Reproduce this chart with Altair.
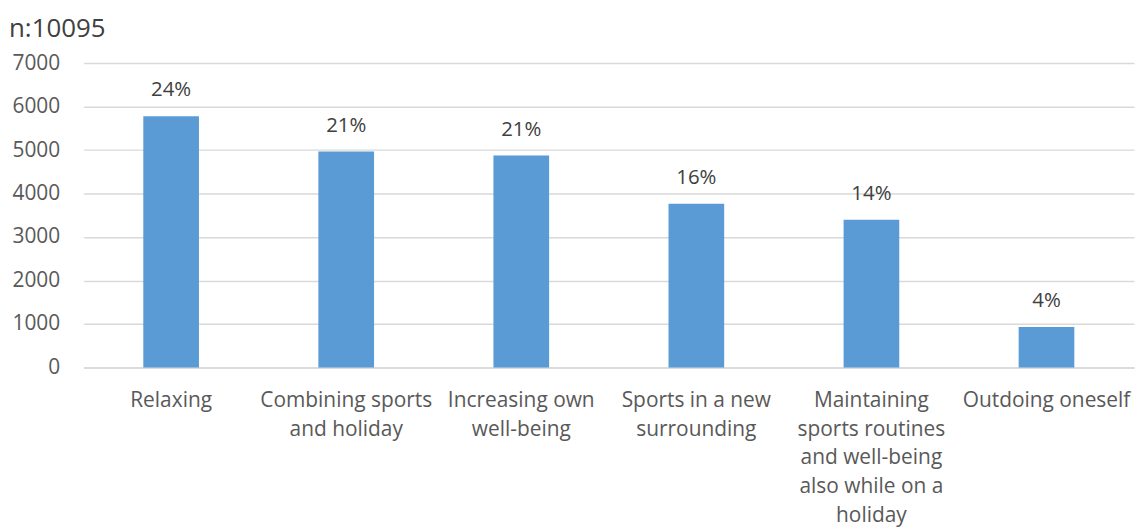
import altair as alt
import pandas as pd

categories = [
    "Relaxing",
    "Combining sports\nand holiday",
    "Increasing own\nwell-being",
    "Sports in a new\nsurrounding",
    "Maintaining\nsports routines\nand well-being\nalso while on a\nholiday",
    "Outdoing oneself",
]
counts = [5780, 4965, 4873, 3765, 3400, 930]
percent_labels = ["24%", "21%", "21%", "16%", "14%", "4%"]

df = pd.DataFrame({"category": categories, "count": counts, "pct": percent_labels})

FONT = "Open Sans"
GRAY = "#595959"

x = alt.X(
    "category:N",
    sort=None,
    title=None,
    scale=alt.Scale(paddingInner=0.682, paddingOuter=0.341),
    axis=alt.Axis(
        labelExpr="split(datum.label, '\\n')",
        labelAngle=0,
        labelFontSize=21,
        labelLineHeight=29,
        labelColor=GRAY,
        labelFont=FONT,
        labelPadding=22,
        labelBaseline="top",
        ticks=False,
        domainColor="#D9D9D9",
        domainWidth=1.5,
        labelLimit=240,
    ),
)
y = alt.Y(
    "count:Q",
    title=None,
    scale=alt.Scale(domain=[0, 7000], nice=False),
    axis=alt.Axis(
        values=[0, 1000, 2000, 3000, 4000, 5000, 6000, 7000],
        format="d",
        ticks=False,
        domain=False,
        labelFontSize=21,
        labelColor=GRAY,
        labelFont=FONT,
        labelPadding=24,
        gridColor="#D9D9D9",
        gridWidth=1.5,
    ),
)

bars = alt.Chart(df).mark_bar(color="#5B9BD5").encode(x=x, y=y)
labels = alt.Chart(df).mark_text(
    baseline="bottom", dy=-16, fontSize=20.5, color="#404040", font=FONT
).encode(x=alt.X("category:N", sort=None), y="count:Q", text="pct:N")

chart = (
    alt.layer(bars, labels)
    .properties(
        width=1056,
        height=306,
        autosize=alt.AutoSizeParams(type="none"),
        padding={"left": 76, "top": 54, "right": 5, "bottom": 160},
        title=alt.TitleParams(
            "n:10095",
            anchor="start",
            frame="group",
            dx=-75,
            offset=10,
            fontSize=26,
            fontWeight="normal",
            color="#404040",
            font=FONT,
        ),
    )
    .configure_view(stroke=None)
)

chart.save("out.html", embed_options={"renderer": "svg", "actions": False})
